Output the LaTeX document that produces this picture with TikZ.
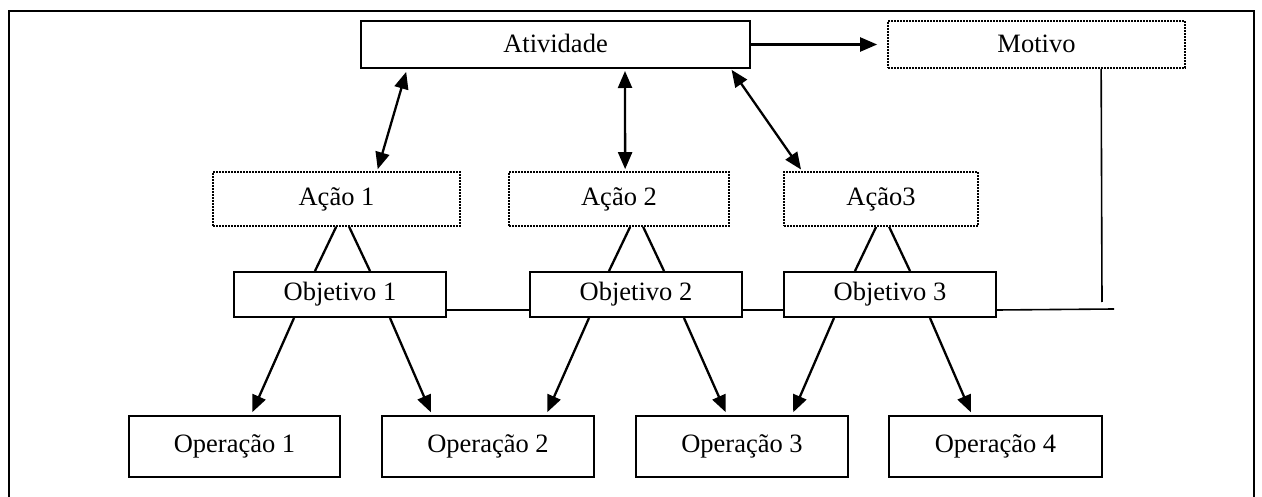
\documentclass[tikz,border=0pt]{standalone}
\usepackage{fontspec}
\setmainfont{Liberation Serif}
\usetikzlibrary{arrows.meta,calc}
\tikzset{
  solidbox/.style={draw, line width=2pt, inner sep=0pt, font=\fontsize{26.5}{30}\selectfont},
  dotbox/.style={draw, line width=1.7pt, dash pattern=on 1.6pt off 1.4pt, inner sep=0pt, font=\fontsize{26.5}{30}\selectfont},
  dbl/.style={line width=2.3pt, {Triangle[length=17pt,width=14pt]}-{Triangle[length=17pt,width=14pt]}},
  sgl/.style={line width=2.3pt, -{Triangle[length=17pt,width=14pt]}},
  plain/.style={line width=2.3pt},
  thin/.style={line width=1.6pt}
}
\begin{document}
\begin{tikzpicture}[x=1pt,y=-1pt]
\useasboundingbox (0,0) rectangle (1262,497);
\draw[line width=2pt] (9,497) -- (9,11) -- (1254,11) -- (1254,497);
% top row
\node[solidbox, minimum width=389pt, minimum height=47pt, text depth=2pt] (atv) at (555.5,44.5) {Atividade};
\node[dotbox, minimum width=297pt, minimum height=47pt, text depth=2pt] (mot) at (1036.5,44.5) {Motivo};
% actions
\node[dotbox, minimum width=247pt, minimum height=54pt] (ac1) at (336.5,199) {Ação 1};
\node[dotbox, minimum width=220pt, minimum height=54pt] (ac2) at (619,199) {Ação 2};
\node[dotbox, minimum width=194pt, minimum height=54pt] (ac3) at (881,199) {Ação3};
% objectives
\node[solidbox, minimum width=212pt, minimum height=45pt] (ob1) at (340,294.5) {Objetivo 1};
\node[solidbox, minimum width=212pt, minimum height=45pt] (ob2) at (636,294.5) {Objetivo 2};
\node[solidbox, minimum width=212pt, minimum height=45pt] (ob3) at (890,294.5) {Objetivo 3};
% operations
\node[solidbox, minimum width=211pt, minimum height=61pt] (op1) at (234.5,446.5) {Operação 1};
\node[solidbox, minimum width=212pt, minimum height=61pt] (op2) at (488,446.5) {Operação 2};
\node[solidbox, minimum width=212pt, minimum height=61pt] (op3) at (742,446.5) {Operação 3};
\node[solidbox, minimum width=213pt, minimum height=61pt] (op4) at (995.5,446.5) {Operação 4};
% coordinates
\coordinate (vend) at (1102,302);
\coordinate (hend) at (1114,309);
% Atividade -> Motivo
\draw[sgl, shorten >=10pt] (atv.east) -- (mot.west);
% Atividade <-> actions
\draw[dbl, shorten <=3pt, shorten >=2pt] ($(atv.south west)+(47,0)$) -- ($(ac1.north west)+(165,0)$);
\draw[dbl, shorten <=2pt, shorten >=2pt] ($(atv.south west)+(265,0)$) -- ($(ac2.north west)+(117,0)$);
\draw[dbl, shorten <=1pt, shorten >=2pt] ($(atv.south east)+(-20,0)$) -- ($(ac3.north west)+(19,0)$);
% actions -- objectives
\draw[plain] ($(ac1.south west)+(124,0)$) -- ($(ob1.north west)+(82,0)$);
\draw[plain] ($(ac1.south west)+(137,0)$) -- ($(ob1.north west)+(137,0)$);
\draw[plain] ($(ac2.south west)+(122,0)$) -- ($(ob2.north west)+(80,0)$);
\draw[plain] ($(ac2.south west)+(135,0)$) -- ($(ob2.north west)+(135,0)$);
\draw[plain] ($(ac3.south west)+(93,0)$) -- ($(ob3.north west)+(72,0)$);
\draw[plain] ($(ac3.south west)+(106,0)$) -- ($(ob3.north west)+(127,0)$);
% objective links
\draw[thin] ($(ob1.south east)+(0,-8)$) -- ($(ob2.south west)+(0,-8)$);
\draw[thin] ($(ob2.south east)+(0,-8)$) -- ($(ob3.south west)+(0,-8)$);
\draw[thin] ($(ob3.south east)+(0,-8)$) -- (hend);
\draw[thin] ($(mot.south west)+(214,0)$) -- (vend);
% objectives -> operations
\draw[sgl, shorten >=3pt] ($(ob1.south west)+(61,0)$) -- ($(op1.north west)+(123,0)$);
\draw[sgl, shorten >=3pt] ($(ob1.south west)+(157,0)$) -- ($(op2.north west)+(51,0)$);
\draw[sgl, shorten >=3pt] ($(ob2.south west)+(60,0)$) -- ($(op2.north west)+(165,0)$);
\draw[sgl, shorten >=3pt] ($(ob2.south west)+(155,0)$) -- ($(op3.north west)+(92,0)$);
\draw[sgl, shorten >=3pt] ($(ob3.south west)+(51,0)$) -- ($(op3.north west)+(157,0)$);
\draw[sgl, shorten >=3pt] ($(ob3.south west)+(147,0)$) -- ($(op4.north west)+(84,0)$);
\end{tikzpicture}
\end{document}
